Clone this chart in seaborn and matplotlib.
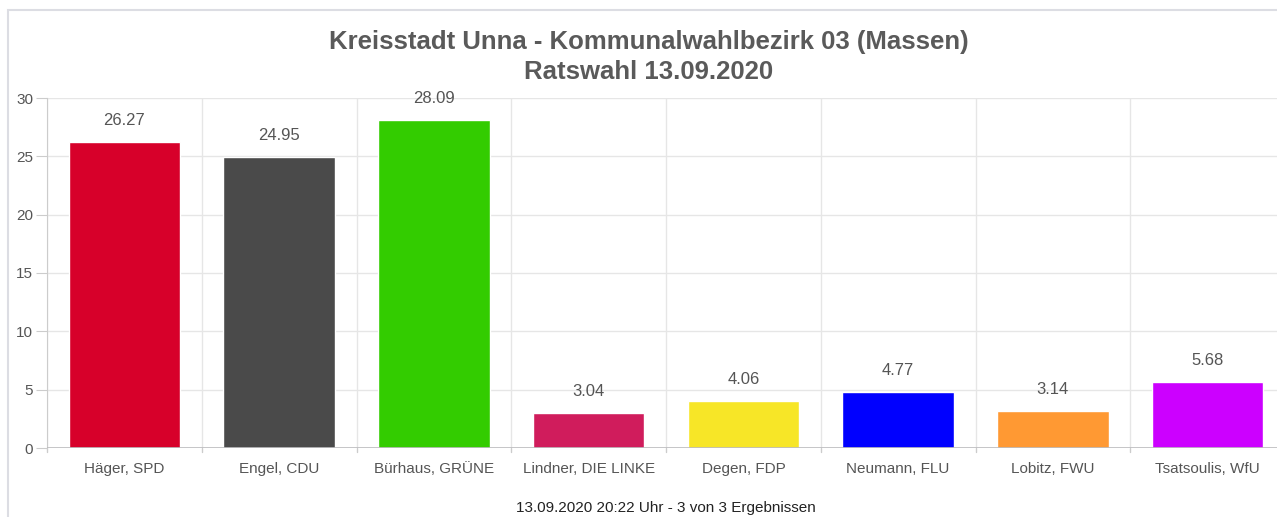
import pandas as pd
import seaborn as sns
import matplotlib.pyplot as plt
from matplotlib.patches import Rectangle

kandidaten = ["Häger, SPD", "Engel, CDU", "Bürhaus, GRÜNE", "Lindner, DIE LINKE",
              "Degen, FDP", "Neumann, FLU", "Lobitz, FWU", "Tsatsoulis, WfU"]
prozent = [26.27, 24.95, 28.09, 3.04, 4.06, 4.77, 3.14, 5.68]
farben = ["#d7002a", "#4a4a4a", "#33cc00", "#d01c5c",
          "#f7e627", "#0000ff", "#ff9933", "#cc00ff"]
y_ticks = [0, 5, 10, 15, 20, 25, 30]

df = pd.DataFrame({"Kandidat": kandidaten, "Prozent": prozent})

sns.set_style("white")
plt.rcParams["font.family"] = ["Liberation Sans", "DejaVu Sans"]

fig = plt.figure(figsize=(12.77, 5.17), dpi=100)
# axes: x from 47px to ~1285px, y from 448px (0) to 98px (30)
ax = fig.add_axes([47 / 1277, (517 - 448) / 517, 1238 / 1277, 350 / 517])

sns.barplot(data=df, x="Kandidat", y="Prozent", hue="Kandidat", palette=farben,
            legend=False, width=0.72, saturation=1, ax=ax)

ax.set_ylim(0, 30)
ax.set_xlim(-0.5, len(kandidaten) - 0.5)
ax.set_yticks(y_ticks)
ax.set_xlabel("")
ax.set_ylabel("")

# grid lines: horizontal at y ticks, vertical at category boundaries
for y in y_ticks[1:]:
    ax.axhline(y, color="#e6e6e6", lw=1, zorder=0)
for i in range(len(kandidaten) + 1):
    ax.axvline(i - 0.5, color="#e6e6e6", lw=1, zorder=0)

for s in ["top", "right", "bottom"]:
    ax.spines[s].set_visible(False)
ax.spines["left"].set_color("#cccccc")
ax.axhline(0, color="#bbbbbd", lw=1.2, zorder=3)

ax.tick_params(axis="y", length=8, color="#cccccc", labelsize=11,
               labelcolor="#555555", pad=2, left=True)
ax.tick_params(axis="x", length=0, labelsize=11, labelcolor="#555555", pad=10)
ax.set_xticks(range(len(kandidaten)))
ax.set_xticklabels(kandidaten)
for i in range(len(kandidaten) + 1):
    ax.plot([i - 0.5, i - 0.5], [0, -0.35], color="#cccccc", lw=1,
            clip_on=False, transform=ax.transData)

for i, v in enumerate(prozent):
    ax.text(i, v + 1.2, f"{v:.2f}", ha="center", va="bottom",
            fontsize=12, color="#555555")

fig.text(649 / 1277, 1 - 42 / 517, "Kreisstadt Unna - Kommunalwahlbezirk 03 (Massen)",
         ha="center", va="center", fontsize=18.5, fontweight="bold", color="#5a5a5a")
fig.text(649 / 1277, 1 - 72 / 517, "Ratswahl 13.09.2020",
         ha="center", va="center", fontsize=18.5, fontweight="bold", color="#5a5a5a")
fig.text(666 / 1277, 1 - 508 / 517, "13.09.2020 20:22 Uhr - 3 von 3 Ergebnissen",
         ha="center", va="center", fontsize=11, color="#222222")

fig.patches.append(Rectangle((8 / 1277, -0.1), 1.2, 1 - 10 / 517 + 0.1,
                             transform=fig.transFigure, fill=False,
                             edgecolor="#dcdde3", lw=1.5, zorder=-1))

fig.savefig("out.png", dpi=100)
